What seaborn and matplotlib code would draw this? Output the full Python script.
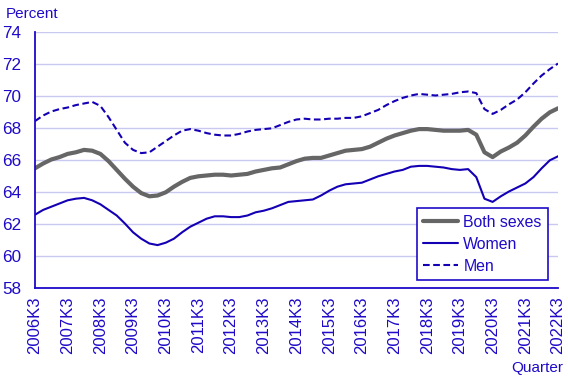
import matplotlib
matplotlib.use("Agg")
import numpy as np
import pandas as pd
import matplotlib.pyplot as plt
import seaborn as sns
from matplotlib.lines import Line2D

# quarters 2006K3 .. 2022K3
quarters = [f"{y}K{q}" for y in range(2006, 2023) for q in range(1, 5)][2:-1]

both_sexes = [65.5, 65.8, 66.05, 66.2, 66.4, 66.5, 66.65, 66.6, 66.4, 65.95,
              65.4, 64.85, 64.35, 63.95, 63.75, 63.8, 64.0, 64.35, 64.65, 64.9,
              65.0, 65.05, 65.1, 65.1, 65.05, 65.1, 65.15, 65.3, 65.4, 65.5,
              65.55, 65.75, 65.95, 66.1, 66.15, 66.15, 66.3, 66.45, 66.6, 66.65,
              66.7, 66.85, 67.1, 67.35, 67.55, 67.7, 67.85, 67.95, 67.95, 67.9,
              67.85, 67.85, 67.85, 67.9, 67.6, 66.5, 66.2, 66.55, 66.8, 67.1,
              67.55, 68.1, 68.6, 69.0, 69.25]
women = [62.6, 62.9, 63.1, 63.3, 63.5, 63.6, 63.65, 63.5, 63.25, 62.9,
         62.55, 62.05, 61.5, 61.1, 60.8, 60.7, 60.85, 61.1, 61.5, 61.85,
         62.1, 62.35, 62.5, 62.5, 62.45, 62.45, 62.55, 62.75, 62.85, 63.0,
         63.2, 63.4, 63.45, 63.5, 63.55, 63.8, 64.1, 64.35, 64.5, 64.55,
         64.6, 64.8, 65.0, 65.15, 65.3, 65.4, 65.6, 65.65, 65.65, 65.6,
         65.55, 65.45, 65.4, 65.45, 64.95, 63.6, 63.4, 63.75, 64.05, 64.3,
         64.55, 64.95, 65.5, 66.0, 66.25]
men = [68.45, 68.8, 69.05, 69.2, 69.3, 69.45, 69.55, 69.65, 69.4, 68.7,
       67.9, 67.1, 66.65, 66.45, 66.5, 66.85, 67.2, 67.55, 67.85, 67.95,
       67.85, 67.7, 67.6, 67.55, 67.55, 67.65, 67.8, 67.9, 67.95, 68.0,
       68.2, 68.4, 68.55, 68.6, 68.55, 68.55, 68.6, 68.6, 68.65, 68.65,
       68.75, 68.95, 69.15, 69.45, 69.7, 69.9, 70.05, 70.15, 70.1, 70.05,
       70.1, 70.15, 70.25, 70.3, 70.2, 69.2, 68.9, 69.15, 69.5, 69.8,
       70.25, 70.8, 71.3, 71.7, 72.05]

series_names = ["Both sexes", "Women", "Men"]
y_ticks = [58, 60, 62, 64, 66, 68, 70, 72, 74]

BLUE = "#1e0ac8"
LINE_BLUE = "#1400b4"
GREY = "#666666"
GRID = "#c8c8f0"

df = pd.DataFrame({
    "idx": list(range(len(quarters))) * 3,
    "value": both_sexes + women + men,
    "series": np.repeat(series_names, len(quarters)),
})

sns.set_style("white")
plt.rcParams["font.family"] = ["Liberation Sans", "DejaVu Sans"]

fig = plt.figure(figsize=(5.68, 3.79), dpi=100)
ax = fig.add_axes([0.0616, 0.2393, 0.9208, 0.6755])

sns.lineplot(data=df, x="idx", y="value", hue="series", style="series",
             hue_order=series_names, style_order=series_names,
             palette={"Both sexes": GREY, "Women": LINE_BLUE, "Men": LINE_BLUE},
             dashes={"Both sexes": "", "Women": "", "Men": (3.2, 1.7)},
             ax=ax, legend=False)
lws = {"Both sexes": 3.0, "Women": 1.5, "Men": 1.5}
for line, name in zip(ax.get_lines(), series_names):
    line.set_linewidth(lws[name])

ax.set_xlim(0, len(quarters) - 1)
ax.set_ylim(58, 74)
ax.set_yticks(y_ticks)
ax.set_yticklabels([str(v) for v in y_ticks])
ax.set_xticks(range(0, len(quarters), 4))
ax.set_xticklabels(quarters[::4], rotation=90)
ax.set_xticks(range(0, len(quarters) - 1, 12), minor=True)

ax.grid(axis="y", color=GRID, linewidth=1.0)
ax.set_axisbelow(True)
for side in ["top", "right"]:
    ax.spines[side].set_visible(False)
for side in ["left", "bottom"]:
    ax.spines[side].set_color(BLUE)
    ax.spines[side].set_linewidth(1.3)

ax.tick_params(axis="y", colors=BLUE, labelsize=12.3, length=4, width=1.2, pad=6)
ax.tick_params(axis="x", which="major", colors=BLUE, labelsize=12, length=0, pad=6)
ax.tick_params(axis="x", which="minor", colors=BLUE, length=5, width=1.2)

ax.set_xlabel("")
ax.set_ylabel("")
fig.text(0.011, 0.953, "Percent", color=BLUE, fontsize=11, ha="left", va="baseline")
fig.text(0.991, 0.019, "Quarter", color=BLUE, fontsize=11, ha="right", va="baseline")

handles = [Line2D([], [], color=GREY, lw=3.0),
           Line2D([], [], color=LINE_BLUE, lw=1.5),
           Line2D([], [], color=LINE_BLUE, lw=1.5, dashes=(3.2, 1.7))]
leg = ax.legend(handles, series_names, loc="lower right",
                bbox_to_anchor=(0.981, 0.031), borderaxespad=0,
                fontsize=11.4, frameon=True, fancybox=False, shadow=False,
                handlelength=2.2, handletextpad=0.35, labelspacing=0.45,
                borderpad=0.4)
leg.get_frame().set_edgecolor(BLUE)
leg.get_frame().set_linewidth(1.2)
leg.get_frame().set_alpha(1)
for t in leg.get_texts():
    t.set_color(BLUE)

fig.savefig("out.png", dpi=100)
